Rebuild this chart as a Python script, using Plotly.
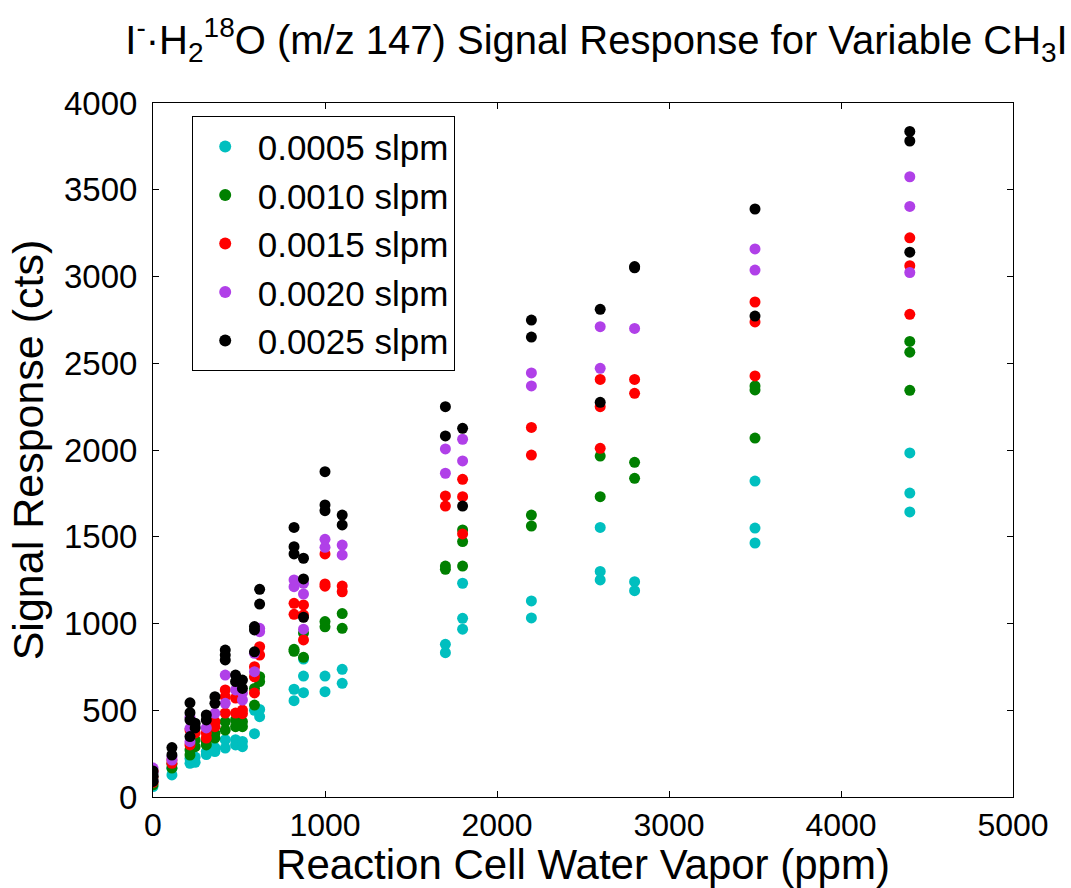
import plotly.graph_objects as go

# ---- data ----
series_names = ["0.0005 slpm", "0.0010 slpm", "0.0015 slpm", "0.0020 slpm", "0.0025 slpm"]
series_colors = ["#00BFBF", "#008000", "#FF0000", "#B040E8", "#000000"]

x_0005 = [0, 0, 0, 110, 110, 215, 215, 245, 245, 310, 310, 360, 360, 420, 420, 480, 480, 520, 520,
          590, 590, 620, 620, 820, 820, 875, 875, 875, 1000, 1000, 1100, 1100, 1700, 1700,
          1800, 1800, 1800, 2200, 2200, 2600, 2600, 2600, 2800, 2800, 3500, 3500, 3500, 4400, 4400, 4400]
y_0005 = [60, 90, 120, 127, 165, 194, 222, 200, 230, 245, 262, 262, 285, 282, 330, 300, 330, 290, 320,
          365, 500, 463, 505, 555, 621, 601, 697, 795, 607, 697, 655, 736, 832, 880,
          967, 1030, 1232, 1032, 1130, 1251, 1300, 1554, 1189, 1241, 1464, 1550, 1821, 1643, 1752, 1983]

x_0010 = [0, 0, 0, 110, 110, 215, 215, 245, 245, 310, 310, 360, 360, 420, 420, 480, 480, 520, 520,
          590, 590, 620, 620, 820, 820, 875, 875, 1000, 1000, 1100, 1100, 1700, 1700,
          1800, 1800, 1800, 2200, 2200, 2600, 2600, 2800, 2800, 3500, 3500, 3500, 4400, 4400, 4400]
y_0010 = [70, 100, 135, 167, 190, 242, 271, 290, 329, 300, 319, 340, 367, 386, 434, 405, 444, 405, 434,
          530, 626, 665, 693, 840, 851, 805, 945, 981, 1011, 972, 1057, 1312, 1331,
          1331, 1472, 1539, 1562, 1625, 1731, 1965, 1837, 1929, 2069, 2346, 2369, 2344, 2564, 2626]

x_0015 = [0, 0, 0, 110, 110, 215, 215, 245, 310, 310, 360, 360, 420, 420, 420, 480, 480, 520, 520,
          590, 590, 590, 620, 620, 820, 820, 875, 875, 875, 1000, 1000, 1000, 1100, 1100, 1700, 1700,
          1800, 1800, 1800, 2200, 2200, 2600, 2600, 2600, 2800, 2800, 3500, 3500, 3500, 4400, 4400, 4400]
y_0015 = [85, 115, 150, 194, 213, 300, 386, 369, 340, 369, 405, 434, 484, 578, 617, 484, 570, 480, 501,
          600, 693, 751, 818, 866, 1053, 1116, 905, 1049, 1107, 1215, 1228, 1401, 1183, 1216, 1677, 1735,
          1516, 1731, 1831, 1971, 2130, 2010, 2250, 2407, 2327, 2407, 2427, 2738, 2853, 2782, 3062, 3223]

x_0020 = [0, 0, 0, 110, 110, 215, 215, 215, 245, 310, 360, 420, 420, 480, 520, 520,
          590, 590, 620, 620, 820, 820, 875, 875, 875, 1000, 1000, 1100, 1100, 1700, 1700,
          1800, 1800, 2200, 2200, 2600, 2600, 2800, 3500, 3500, 4400, 4400, 4400]
y_0020 = [95, 140, 167, 213, 230, 319, 396, 460, 405, 398, 482, 540, 703, 617, 559, 600,
          722, 828, 953, 972, 1212, 1251, 967, 1170, 1232, 1439, 1485, 1395, 1452, 1866, 2006,
          1937, 2062, 2369, 2444, 2471, 2711, 2701, 3037, 3159, 3023, 3404, 3575]

x_0025 = [0, 0, 0, 110, 110, 215, 215, 215, 215, 245, 245, 310, 310, 360, 360, 420, 420, 420, 480, 480,
          520, 520, 590, 590, 590, 620, 620, 820, 820, 820, 875, 875, 875, 1000, 1000, 1000, 1100, 1100,
          1700, 1700, 1800, 1800, 2200, 2200, 2600, 2600, 2800, 2800, 3500, 3500, 4400, 4400, 4400]
y_0025 = [90, 120, 150, 242, 285, 348, 444, 486, 543, 398, 425, 444, 473, 540, 578, 790, 818, 847, 665, 703,
          626, 674, 837, 963, 982, 1112, 1197, 1401, 1443, 1554, 1036, 1257, 1376, 1650, 1683, 1875, 1568, 1625,
          2081, 2250, 1677, 2125, 2651, 2749, 2275, 2811, 3050, 3057, 2772, 3389, 3140, 3781, 3836]

x_tick_vals = [0, 1000, 2000, 3000, 4000, 5000]
y_tick_vals = [0, 500, 1000, 1500, 2000, 2500, 3000, 3500, 4000]

xs = [x_0005, x_0010, x_0015, x_0020, x_0025]
ys = [y_0005, y_0010, y_0015, y_0020, y_0025]

FONT = "Liberation Sans, Arial, Helvetica, sans-serif"

fig = go.Figure()
for name, color, xv, yv in zip(series_names, series_colors, xs, ys):
    fig.add_trace(go.Scatter(
        x=xv, y=yv, mode="markers", name=name,
        marker=dict(color=color, size=11, line=dict(width=0)),
    ))

axis_common = dict(
    showgrid=False, zeroline=False, showline=True, linecolor="black", linewidth=1,
    mirror="ticks", ticks="inside", ticklen=6, tickcolor="black", tickwidth=1,
    automargin=False,
)

fig.update_layout(
    width=1071, height=888,
    margin=dict(l=153, r=58, t=103, b=91),
    paper_bgcolor="white", plot_bgcolor="white",
    title=dict(
        text="I<sup>-</sup>·H<sub>2</sub><sup>18</sup>O (m/z 147) Signal Response for Variable CH<sub>3</sub>I",
        font=dict(family=FONT, size=40, color="black"),
        x=0.557, xref="container", xanchor="center",
        y=1 - 40 / 888, yref="container", yanchor="middle",
    ),
    xaxis=dict(
        range=[0, 5000], tickvals=x_tick_vals, ticklabelstandoff=0,
        tickfont=dict(family=FONT, size=32, color="black"),
        title=dict(text="Reaction Cell Water Vapor (ppm)", font=dict(family=FONT, size=42, color="black"), standoff=10),
        **axis_common,
    ),
    yaxis=dict(
        range=[0, 4000], tickvals=y_tick_vals, ticklabelstandoff=8,
        tickfont=dict(family=FONT, size=33, color="black"),
        title=dict(text="Signal Response (cts)", font=dict(family=FONT, size=43, color="black"), standoff=6),
        **axis_common,
    ),
    legend=dict(
        x=0.045, y=0.981, xanchor="left", yanchor="top",
        bgcolor="white", bordercolor="black", borderwidth=1,
        font=dict(family=FONT, size=35, color="black"),
        itemsizing="constant", itemwidth=55,
    ),
    showlegend=True,
)

fig.write_html("out.html")
